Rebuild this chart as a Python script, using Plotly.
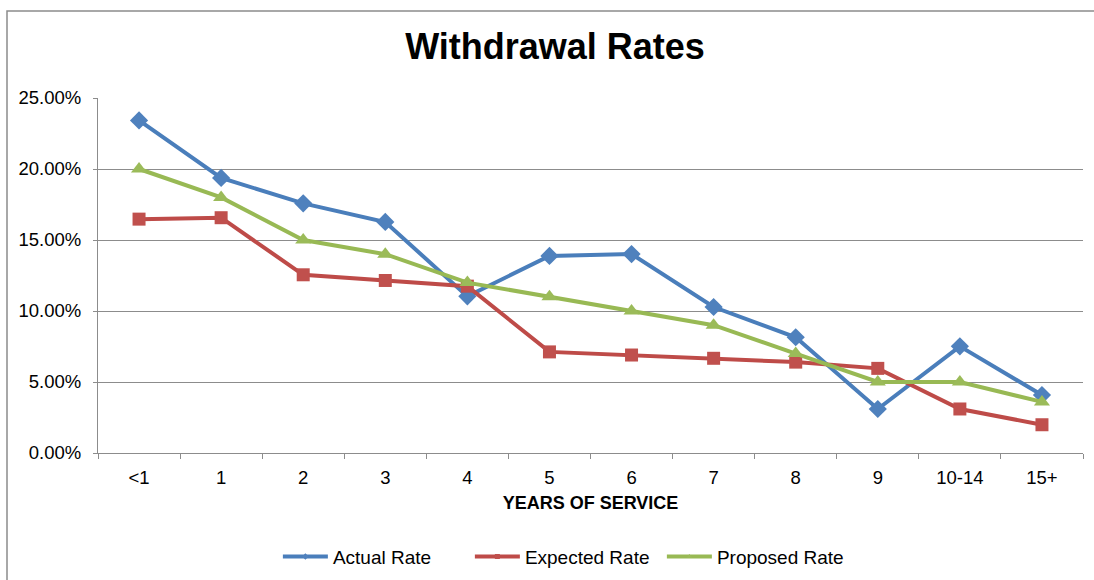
import plotly.graph_objects as go

# Withdrawal rates by years of service
years = ["<1", "1", "2", "3", "4", "5", "6", "7", "8", "9", "10-14", "15+"]
actual_rate = [0.2342, 0.1937, 0.1758, 0.1627, 0.1103, 0.1388, 0.1401, 0.1028, 0.0815, 0.0310, 0.0751, 0.0408]
expected_rate = [0.1647, 0.1657, 0.1255, 0.1215, 0.1175, 0.0712, 0.0690, 0.0667, 0.0640, 0.0596, 0.0310, 0.0199]
proposed_rate = [0.20, 0.18, 0.15, 0.14, 0.12, 0.11, 0.10, 0.09, 0.07, 0.05, 0.05, 0.036]

FONT = "Liberation Sans, Arial, sans-serif"
GRID = "#8c8c8c"

series = [
    ("Actual Rate", actual_rate, "#4a7ebb", "#4f81bd", "diamond", 14),
    ("Expected Rate", expected_rate, "#be4b48", "#c0504d", "square", 13),
    ("Proposed Rate", proposed_rate, "#98b954", "#9bbb59", "triangle-up", 14),
]

fig = go.Figure()
for name, vals, line_col, marker_col, symbol, size in series:
    # data line with full-size markers
    fig.add_trace(go.Scatter(
        x=years, y=vals, name=name, mode="lines+markers",
        legendgroup=name, showlegend=False,
        line=dict(color=line_col, width=4),
        marker=dict(symbol=symbol, size=size, color=marker_col,
                    line=dict(width=0)),
    ))
    # legend key with a small marker
    fig.add_trace(go.Scatter(
        x=[None], y=[None], name=name, mode="lines+markers",
        legendgroup=name, showlegend=True,
        line=dict(color=line_col, width=4),
        marker=dict(symbol=symbol, size=5, color=marker_col,
                    line=dict(width=0)),
    ))

fig.update_layout(
    width=1094, height=580,
    margin=dict(l=98, r=11, t=98, b=127, autoexpand=False),
    paper_bgcolor="white", plot_bgcolor="white",
    font=dict(family=FONT, size=18, color="black"),
    title=dict(text="<b>Withdrawal Rates</b>", x=555 / 1094, xanchor="center",
               y=1 - 46 / 580, yanchor="middle",
               font=dict(family=FONT, size=36, color="black")),
    showlegend=True,
    legend=dict(orientation="h", x=0.475, xanchor="center",
                y=(453.3 - 557) / 355.3, yanchor="middle",
                font=dict(family=FONT, size=19, color="black"),
                itemwidth=45, entrywidth=132, bgcolor="rgba(0,0,0,0)"),
    xaxis=dict(
        type="category", tickson="boundaries", range=[-0.5, 11.5],
        autorange=False, automargin=False,
        ticks="outside", ticklen=5, tickcolor=GRID, tickwidth=1,
        showline=True, linecolor=GRID, linewidth=1,
        showgrid=False, zeroline=False,
        ticklabelstandoff=8,
        tickfont=dict(family=FONT, size=18.5),
        title=dict(text="<b>YEARS OF SERVICE</b>", standoff=9,
                   font=dict(family=FONT, size=18)),
    ),
    yaxis=dict(
        range=[0, 0.25], autorange=False, automargin=False,
        dtick=0.05, tickformat=".2%",
        ticks="outside", ticklen=4, tickcolor=GRID, tickwidth=1,
        showline=True, linecolor=GRID, linewidth=1,
        showgrid=True, gridcolor=GRID, gridwidth=1,
        zeroline=False, ticklabelstandoff=8,
        tickfont=dict(family=FONT, size=18.5),
    ),
    shapes=[dict(
        type="rect", xref="paper", yref="paper",
        x0=(7 - 98) / 985, x1=(1110 - 98) / 985,
        y0=(453.3 - 600) / 355.3, y1=(453.3 - 11) / 355.3,
        line=dict(color="#8c8c8c", width=1.5), fillcolor="rgba(0,0,0,0)",
        layer="below",
    )],
)

fig.write_html("out.html")
